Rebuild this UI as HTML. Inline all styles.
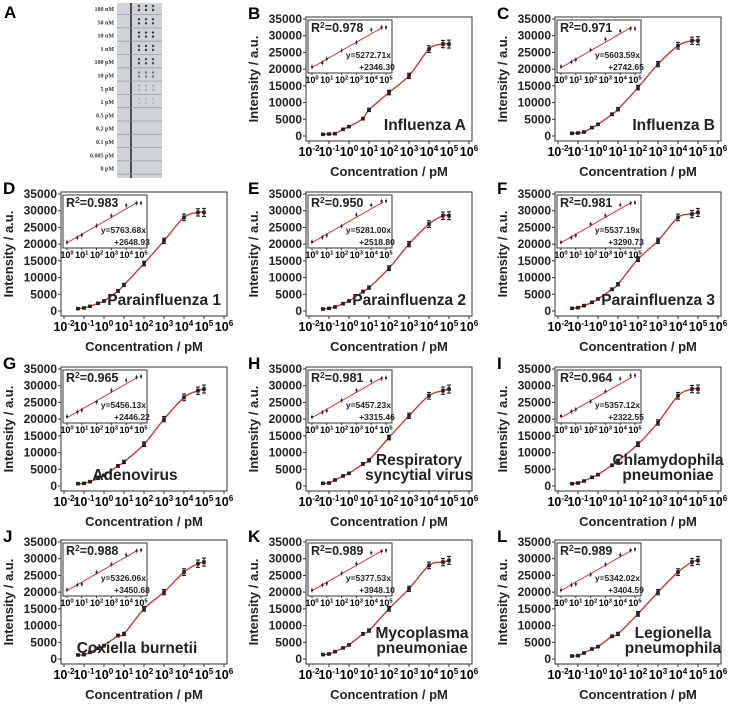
<!DOCTYPE html>
<html><head><meta charset="utf-8"><style>
body{margin:0;background:#fff;}
svg{display:block;font-family:"Liberation Sans",Arial,sans-serif;}
</style></head><body>
<svg id="fig" width="734" height="707" viewBox="0 0 734 707" xmlns="http://www.w3.org/2000/svg">
<g id="panelA"></g>
</svg>
<script>
// ---- data ----
const concentrations = [0.05,0.1,0.2,0.5,1,5,10,100,1000,10000,50000,100000];
const panelLetters = ["B","C","D","E","F","G","H","I","J","K","L"];
const panelNames = [["Influenza A"],["Influenza B"],["Parainfluenza 1"],["Parainfluenza 2"],["Parainfluenza 3"],["Adenovirus"],["Respiratory","syncytial virus"],["Chlamydophila","pneumoniae"],["Coxiella burnetii"],["Mycoplasma","pneumoniae"],["Legionella","pneumophila"]];
const r2Values = ["0.978","0.971","0.983","0.950","0.981","0.965","0.981","0.964","0.988","0.989","0.989"];
const slopes = ["5272.71","5603.59","5763.68","5281.00","5537.19","5456.13","5457.23","5357.12","5326.06","5377.53","5342.02"];
const intercepts = ["2346.30","2742.65","2648.93","2518.80","3290.73","2446.22","3315.46","2322.55","3450.68","3948.10","3404.59"];
const seriesB = [500,600,700,2000,2800,5200,7800,13000,18000,26000,27500,27500];
const seriesC = [800,900,1200,2500,3500,6500,8000,14500,21500,27000,28500,28500];
const seriesD = [700,900,1400,2300,3000,6000,7800,14200,21000,28000,29500,29500];
const seriesE = [600,800,1200,2200,3000,5800,7000,12800,20000,26000,28500,28500];
const seriesF = [800,1000,1600,2600,3600,6500,8000,15500,21000,28000,29000,29500];
const seriesG = [700,800,1300,2300,3200,6000,7200,12500,20000,26500,28500,29000];
const seriesH = [800,900,1800,3000,3800,6600,7700,14500,21000,27000,28500,29000];
const seriesI = [700,900,1500,2600,3400,6200,7500,12500,19000,27000,29000,29000];
const seriesJ = [1200,1300,2000,3200,4000,7000,7500,15000,20000,26000,28500,29000];
const seriesK = [1300,1500,2200,3300,4200,7500,8500,15000,21000,28000,29000,29500];
const seriesL = [900,1000,1800,3000,3700,6800,7500,13500,20000,26000,29000,29500];
const allSeries = [seriesB,seriesC,seriesD,seriesE,seriesF,seriesG,seriesH,seriesI,seriesJ,seriesK,seriesL];
const errors = [200,200,250,300,300,400,500,700,800,1000,1100,1200];
const yTicks = [0,5000,10000,15000,20000,25000,30000,35000];
const xTickExps = [-2,-1,0,1,2,3,4,5,6];
const insetExps = [0,1,2,3,4,5];
const stripLabels = ["100 nM","50 nM","10 nM","1 nM","100 pM","10 pM","5 pM","1 pM","0.5 pM","0.2 pM","0.1 pM","0.005 pM","0 pM"];
const stripDotAlpha = [1,1,1,1,0.9,0.6,0.25,0.15,0,0,0,0,0];

const NS="http://www.w3.org/2000/svg";
const svg=document.getElementById('fig');
function mk(tag,attrs,parent){const e=document.createElementNS(NS,tag);for(const k in attrs)e.setAttribute(k,attrs[k]);(parent||svg).appendChild(e);return e;}

// ---- panel A ----
const pa=document.getElementById('panelA');
let t=mk('text',{x:4,y:18,'font-size':17,'font-weight':'bold'},pa);t.textContent="A";


mk('rect',{x:117,y:3,width:45,height:175,fill:'#d0d3d7'},pa);
mk('line',{x1:131,y1:3,x2:131,y2:178,stroke:'#222','stroke-width':1.5},pa);
stripLabels.forEach((s,i)=>{
  const y=8+i*13.3;
  const tx=mk('text',{x:114,y:y+3,'font-size':6,'font-family':'Liberation Serif,serif','font-weight':'bold','text-anchor':'end',fill:'#333'},pa);
  tx.textContent=s;
  
  
  mk('line',{x1:117,y1:y+6.6,x2:162,y2:y+6.6,stroke:'#9a9da2','stroke-width':0.8},pa);
  if(stripDotAlpha[i]>0){[139,146,153].forEach(cx=>{[y-2,y+2].forEach(cy=>{mk('circle',{cx:cx,cy:cy,r:1.2,fill:'#3a3550','fill-opacity':stripDotAlpha[i]},pa);});});}
});

// ---- curve panels ----
const colLeft=[306,555,61,306,555,61,306,555,61,306,555];
const rowTop=[17,17,192,192,192,367,367,367,540,540,540];
const W=166,H=124;
const annPos=[[160,113,'end'],[160,113,'end'],[160,113,'end'],[160,113,'end'],[160,113,'end'],[74,113,'middle'],[113,98,'middle'],[113,98,'middle'],[76,113,'middle'],[116,98,'middle'],[118,98,'middle']];

function sup(parent,x,y,base,exp,size,anchor){
  const tx=mk('text',{x:x,y:y,'font-size':size,'font-weight':'bold','text-anchor':anchor||'middle'},parent);
  const a=document.createElementNS(NS,'tspan');a.textContent=base;tx.appendChild(a);
  const b=document.createElementNS(NS,'tspan');b.setAttribute('dy',-size*0.4);b.setAttribute('font-size',size*0.65);b.textContent=exp;tx.appendChild(b);
  return tx;
}

allSeries.forEach((data,p)=>{
  const L=colLeft[p],T=rowTop[p];
  const g=mk('g',{});
  
  
  const xs=v=>L+3+(Math.log10(v)+2)/8*(W-6);
  const ys=v=>T+H-5-v/35000*(H-7);
  const lt=mk('text',{x:L-58,y:T+2,'font-size':17,'font-weight':'bold'},g);lt.textContent=panelLetters[p];
  
  
  const fr=mk('rect',{x:L,y:T,width:W,height:H,fill:'none',stroke:'#333','stroke-width':1},g);
  
  
  yTicks.forEach(v=>{
    mk('line',{x1:L,x2:L-3,y1:ys(v),y2:ys(v),stroke:'#333'},g);
    const tl=mk('text',{x:L-4,y:ys(v)+4,'font-size':12,'font-weight':'bold','text-anchor':'end',fill:'#222'},g);tl.textContent=v;
    
    
  });
  xTickExps.forEach(e=>{
    const x=xs(Math.pow(10,e));
    mk('line',{x1:x,x2:x,y1:T+H,y2:T+H+3,stroke:'#333'},g);
    const tl=sup(g,x,T+H+15,"10",String(e),12.5);
    
    
  });
  const xt=mk('text',{x:L+W/2,y:T+H+35,'font-size':13,'font-weight':'bold','text-anchor':'middle',fill:'#222'},g);xt.textContent="Concentration / pM";
  
  
  const cy=T+H/2;
  const yt=mk('text',{x:L-48,y:cy,'font-size':13,'font-weight':'bold','text-anchor':'middle',transform:`rotate(-90 ${L-48} ${cy})`,fill:'#222'},g);yt.textContent="Intensity / a.u.";
  
  
  const pts=concentrations.map((c,i)=>[xs(c),ys(data[i])]);
  let d=`M${pts[0][0]},${pts[0][1]}`;
  for(let i=0;i<pts.length-1;i++){
    const p0=pts[Math.max(0,i-1)],p1=pts[i],p2=pts[i+1],p3=pts[Math.min(pts.length-1,i+2)];
    d+=` C${p1[0]+(p2[0]-p0[0])/6},${p1[1]+(p2[1]-p0[1])/6} ${p2[0]-(p3[0]-p1[0])/6},${p2[1]-(p3[1]-p1[1])/6} ${p2[0]},${p2[1]}`;
  }
  const cv=mk('path',{d:d,fill:'none',stroke:'#c8383c','stroke-width':1.4},g);
  
  
  concentrations.forEach((c,i)=>{
    const x=xs(c),y=ys(data[i]),e=errors[i]/35000*(H-7);
    mk('line',{x1:x,x2:x,y1:y-e,y2:y+e,stroke:'#111','stroke-width':1},g);
    mk('line',{x1:x-2,x2:x+2,y1:y-e,y2:y-e,stroke:'#111','stroke-width':1},g);
    mk('line',{x1:x-2,x2:x+2,y1:y+e,y2:y+e,stroke:'#111','stroke-width':1},g);
    const pt=mk('rect',{x:x-1.8,y:y-1.8,width:3.6,height:3.6,fill:'#222'},g);
    
    
  });
  // inset
  const IL=L+2,IT=T+3,IW=84,IH=53;
  const slope=parseFloat(slopes[p]),icp=parseFloat(intercepts[p]);
  const yLo=icp-1500,yHi=Math.max(icp+slope*5,Math.max.apply(null,data))+1500;
  const ix=e=>IL+4+e/5*(IW-10);
  const iy=v=>IT+IH-3-(v-yLo)/(yHi-yLo)*(IH-6);
  const ir=mk('rect',{x:IL,y:IT,width:IW,height:IH,fill:'#fff',stroke:'#333','stroke-width':1},g);
  
  
  mk('line',{x1:ix(0),y1:iy(icp),x2:ix(4.8),y2:iy(icp+slope*4.8),stroke:'#c8383c','stroke-width':1},g);
  concentrations.forEach((c,i)=>{
    if(c<1)return;
    const x=ix(Math.log10(c)),y=iy(data[i]);
    mk('rect',{x:x-1,y:y-1,width:2,height:2,fill:'#222'},g);
    mk('line',{x1:x,x2:x,y1:y-2.5,y2:y+2.5,stroke:'#222','stroke-width':0.6},g);
  });
  insetExps.forEach(e=>{
    mk('line',{x1:ix(e),x2:ix(e),y1:IT+IH,y2:IT+IH+2,stroke:'#333'},g);
    const tl=sup(g,ix(e),IT+IH+10,"10",String(e),9);
    
    
  });
  const r2=mk('text',{x:IL+3,y:IT+12,'font-size':12.5,'font-weight':'bold',fill:'#222'},g);
  r2.innerHTML='R<tspan dy="-4" font-size="8.5">2</tspan><tspan dy="4">='+r2Values[p]+'</tspan>';
  
  
  const eq=mk('text',{x:IL+IW-1,y:IT+38,'font-size':8.5,'font-weight':'bold','text-anchor':'end',fill:'#222'},g);
  eq.textContent='y='+slopes[p]+'x';
  
  
  const eq2=mk('text',{x:IL+IW-15,y:IT+50,'font-size':8.5,'font-weight':'bold','text-anchor':'middle',fill:'#222'},g);
  eq2.textContent='+'+intercepts[p];
  
  
  const [ax,ay,anc]=annPos[p];
  panelNames[p].forEach((s,k)=>{
    const at=mk('text',{x:L+ax,y:T+ay+k*15,'font-size':15.5,'font-weight':'bold','text-anchor':anc,fill:'#222'},g);
    at.textContent=s;
    
    
  });
});
</script>
</body></html>
